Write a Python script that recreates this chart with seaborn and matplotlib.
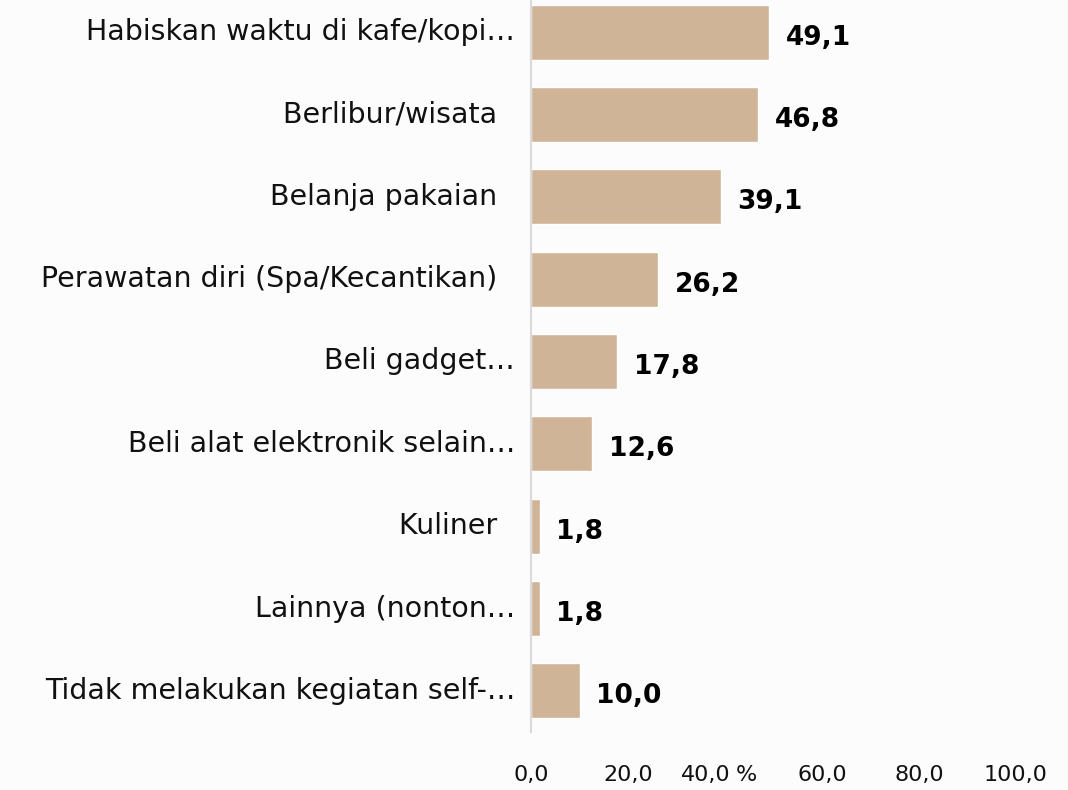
import pandas as pd
import matplotlib
matplotlib.use('Agg')
import matplotlib.pyplot as plt
import matplotlib.transforms as mtransforms
import seaborn as sns

# data
categories = [
    'Habiskan waktu di kafe/kopi…',
    'Berlibur/wisata  ',
    'Belanja pakaian  ',
    'Perawatan diri (Spa/Kecantikan)  ',
    'Beli gadget…',
    'Beli alat elektronik selain…',
    'Kuliner  ',
    'Lainnya (nonton…',
    'Tidak melakukan kegiatan self-…',
]
values = [49.1, 46.8, 39.1, 26.2, 17.8, 12.6, 1.8, 1.8, 10.0]
ticks = [0, 20, 40, 60, 80, 100]

df = pd.DataFrame({'kegiatan': categories, 'persen': values})

sns.set_theme(style='white')
plt.rcParams['font.family'] = ['DejaVu Sans']

fig = plt.figure(figsize=(10.68, 7.9), dpi=100)
fig.patch.set_facecolor('#fcfcfc')
ax = fig.add_axes([0.4972, 0.0734, 0.4541, 0.9266])
ax.set_facecolor('#fcfcfc')

sns.barplot(data=df, x='persen', y='kegiatan', color='#d0b497', saturation=1,
            width=0.67, ax=ax)

ax.set_xlim(0, 100)
ax.set_ylim(8.5, -0.39)
ax.set_xticks(ticks)
ax.set_xticklabels([f'{t:.1f}'.replace('.', ',') for t in ticks], fontsize=16)
ax.tick_params(axis='x', length=0, pad=24, colors='#111111')
ax.tick_params(axis='y', length=0, pad=11.5, labelsize=20.5, colors='#111111')
ax.set_ylabel('')
ax.set_xlabel('%', fontsize=16, color='#111111', va='top')
ax.xaxis.set_label_coords(0.444, -24 * 100 / 72 / 732)

# the "40,0" label sits a bit to the left to leave room for the unit
lbl = ax.get_xticklabels()[2]
lbl.set_transform(lbl.get_transform() +
                  mtransforms.ScaledTranslation(-0.19, 0, fig.dpi_scale_trans))

for s in ['top', 'right', 'bottom']:
    ax.spines[s].set_visible(False)
ax.spines['left'].set_color('#d9d9d9')
ax.spines['left'].set_linewidth(1.5)

ax.bar_label(ax.containers[0], labels=[f'{v:.1f}'.replace('.', ',') for v in values],
             padding=12, fontsize=19, fontweight='bold', color='black')
for t in ax.texts:
    t.set_va('center')
    t.xyann = (t.xyann[0], -4)

# labels sit slightly above bar centres in the reference
for t in ax.get_yticklabels():
    t.set_transform(t.get_transform() +
                    mtransforms.ScaledTranslation(0, 0.03, fig.dpi_scale_trans))

fig.savefig('out.png', dpi=100, facecolor=fig.get_facecolor())
